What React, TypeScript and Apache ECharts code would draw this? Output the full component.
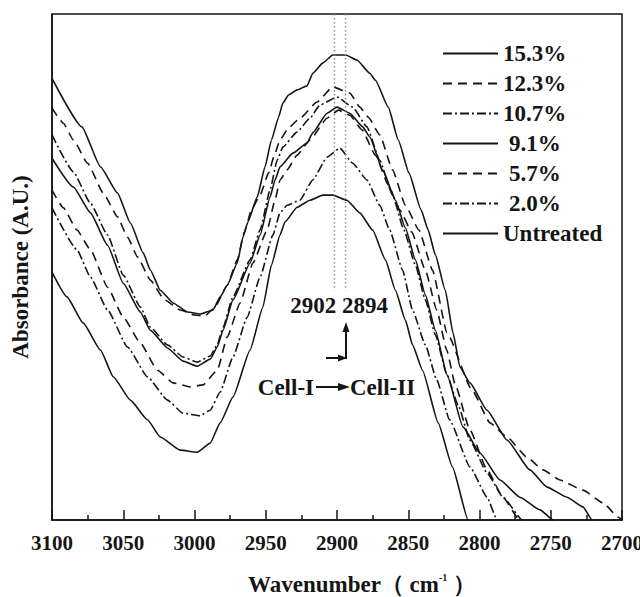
import React, { useEffect, useRef } from 'react';
import * as echarts from 'echarts';

// [wavenumber (cm-1), absorbance (arbitrary units, 0-100)]
const s153: [number, number][] = [
  [3100, 87.3], [3079, 77.7], [3066, 69.8], [3054, 64.6], [3045, 58.7], [3036, 52.8], [3031, 49.4],
  [3024, 45.4], [3015, 42.9], [3005, 41.1], [2996, 40.7], [2987, 41.5], [2982, 44.1], [2977, 46.4],
  [2970, 50.8], [2966, 55.9], [2962.5, 58.9], [2956, 63.8], [2950.5, 69.8], [2946, 75.1], [2941, 79.6],
  [2938, 82.4], [2934, 84.0], [2928, 85.0], [2921, 85.8], [2917, 88.3], [2910, 90.3], [2903, 91.9],
  [2894, 91.9], [2886, 90.9], [2877, 88.3], [2873, 86.9], [2864, 81.6], [2857, 75.1], [2849.5, 68.6],
  [2841, 61.3], [2836, 57.3], [2831, 52.4], [2824, 45.4], [2818.6, 37.0], [2813.7, 30.2], [2806.7, 27.1],
  [2794.7, 21.7], [2780.7, 15.8], [2764.6, 9.9], [2752.6, 6.5], [2738.6, 4.5], [2727.4, 2.6], [2721, 0],
  [2719, -0.5],
];
const s123: [number, number][] = [
  [3100, 81.4], [3092, 78.4], [3085, 75.1], [3075, 70.5], [3064, 64.6], [3054, 59.9], [3047, 55.9],
  [3040, 52.0], [3031, 47.4], [3021, 43.5], [3010, 41.5], [3000, 40.5], [2993, 40.3], [2986, 41.9],
  [2977, 46.4], [2970, 51.4], [2965, 56.9], [2960, 61.3], [2954, 64.2], [2948, 68.6], [2943.5, 72.5],
  [2940, 75.1], [2934, 77.5], [2926, 79.4], [2914, 82.6], [2903, 85.6], [2891, 84.4], [2884, 81.6],
  [2878, 79.6], [2870, 76.1], [2861, 69.2], [2852, 62.2], [2842.5, 57.3], [2833, 49.4], [2822.8, 37.0],
  [2805.3, 25.7], [2792.6, 19.2], [2780.7, 16.4], [2766.7, 12.4], [2755.4, 9.9], [2743.5, 7.9],
  [2727.4, 5.9], [2713.3, 3.4], [2702.8, 0.6], [2700, 0],
];
const s107: [number, number][] = [
  [3100, 76.1], [3085, 68.8], [3073, 62.6], [3061, 56.3], [3050, 48.4], [3038, 42.1], [3031, 38.1],
  [3019, 34.6], [3008, 32.2], [2998, 31.2], [2989, 32.4], [2984, 34.6], [2980, 38.1], [2973, 44.1],
  [2961, 51.4], [2954, 57.3], [2947, 65.2], [2942, 71.1], [2938, 73.7], [2928, 76.7], [2919, 79.4],
  [2912, 82.0], [2900, 83.6], [2889, 81.6], [2879, 77.7], [2870, 71.1], [2861, 64.2], [2853, 57.3],
  [2845, 50.4], [2838, 43.5], [2831, 36.6], [2822.8, 28.7], [2815, 22.7], [2806.7, 15.8], [2794.7, 9.3],
  [2783.5, 4.5], [2770, 0], [2768, -0.5],
];
const s91: [number, number][] = [
  [3100, 71.5], [3085, 65.8], [3073, 60.7], [3061, 54.3], [3050, 46.8], [3038, 41.1], [3031, 37.5],
  [3019, 34.0], [3008, 31.4], [2998, 30.4], [2989, 31.8], [2984, 34.2], [2980, 37.5], [2973, 43.5],
  [2961, 50.8], [2954, 56.3], [2947, 63.8], [2943.5, 67.2], [2940, 69.8], [2931, 72.5], [2921, 74.5],
  [2917, 76.5], [2907, 80.4], [2900, 81.6], [2891, 80.4], [2882, 77.7], [2877, 75.7], [2868, 69.2],
  [2859, 63.2], [2852, 57.7], [2845, 51.4], [2838, 44.5], [2831, 37.5], [2822.8, 28.7], [2811.6, 18.4],
  [2799.6, 13.2], [2785.6, 7.9], [2771.6, 4.5], [2757.5, 2.0], [2748.4, 0], [2746, -0.5],
];
const s57: [number, number][] = [
  [3100, 65.2], [3092, 61.7], [3082.5, 57.3], [3073, 53.4], [3061, 46.0], [3050, 40.1], [3038, 35.0],
  [3026, 29.6], [3015, 27.1], [3003, 26.3], [2994, 26.7], [2984, 29.6], [2977, 36.2], [2968, 42.9],
  [2959, 50.8], [2949, 57.3], [2943.5, 63.2], [2940, 67.2], [2935, 69.2], [2928, 72.1], [2919, 75.1],
  [2907, 79.4], [2899, 81.0], [2891, 80.0], [2882.5, 77.1], [2873, 72.1], [2864, 66.2], [2856, 61.3],
  [2847.5, 56.9], [2838, 49.4], [2830, 41.5], [2823, 33.6], [2817, 26.7], [2806.7, 17.8], [2794.7, 9.9],
  [2783.5, 4.5], [2772, 0], [2770, -0.5],
];
const s20: [number, number][] = [
  [3100, 61.7], [3082.5, 53.4], [3073, 48.0], [3061, 41.5], [3047, 34.2], [3033, 28.3], [3019, 23.7],
  [3008, 21.1], [2996, 20.6], [2989, 21.7], [2982, 25.3], [2973, 32.2], [2963, 40.1], [2954, 48.0],
  [2945, 56.3], [2940, 60.7], [2935, 62.2], [2926, 63.2], [2917, 67.2], [2907, 71.7], [2898, 73.5],
  [2889, 70.5], [2879, 67.2], [2870, 62.2], [2863, 57.3], [2854, 49.4], [2847, 41.5], [2838, 34.6],
  [2830, 27.7], [2821, 19.8], [2806.7, 10.5], [2794.7, 4.5], [2787.7, 0], [2786, -0.5],
];
const sUntreated: [number, number][] = [
  [3100, 49.0], [3089.5, 44.1], [3078, 38.9], [3066, 33.6], [3057, 28.3], [3045, 23.7], [3033, 19.8],
  [3024, 16.4], [3010, 13.8], [2998, 13.4], [2989, 15.2], [2982, 19.2], [2973, 24.3], [2961, 33.6],
  [2952, 42.1], [2946, 50.4], [2940, 56.3], [2936.5, 58.9], [2928, 61.8], [2919, 63.2], [2910, 64.2],
  [2903, 64.2], [2893, 63.2], [2884, 60.7], [2875, 57.3], [2866, 51.4], [2859, 45.4], [2852, 39.5],
  [2847, 34.6], [2840, 29.6], [2829, 19.2], [2819, 10.5], [2808, 0], [2806.5, -1.0],
];

const seriesNames = ['15.3%', '12.3%', '10.7%', '9.1%', '5.7%', '2.0%', 'Untreated'];
const seriesData = [s153, s123, s107, s91, s57, s20, sUntreated];
const seriesDash = ['solid', 'dashed', 'dashdot', 'solid', 'dashed', 'dashdot', 'solid'];

const peakLines = [2902, 2894];
const peakLineTop = 100;
const peakLineBottom = 45.4;

const FONT = 'Liberation Serif';
const INK = '#151515';

function dashOf(kind: string): any {
  if (kind === 'dashed') return [9, 6];
  if (kind === 'dashdot') return [9, 3, 2, 3];
  return 'solid';
}

export default function App() {
  const ref = useRef<HTMLDivElement>(null);
  useEffect(() => {
    document.body.style.margin = '0';
    document.documentElement.style.overflow = 'hidden';
    document.body.style.overflow = 'hidden';
    const chart = echarts.init(ref.current!, null, { renderer: 'svg', width: 640, height: 597 });
    const series: any[] = seriesNames.map((name, i) => ({
      name,
      type: 'line',
      data: seriesData[i],
      symbol: 'none',
      smooth: 0.15,
      smoothMonotone: 'x',
      lineStyle: { color: INK, width: 1.6, type: dashOf(seriesDash[i]) },
      itemStyle: { color: INK },
      silent: true,
      z: 3,
    }));
    series[0].markLine = {
      silent: true,
      symbol: ['none', 'none'],
      label: { show: false },
      lineStyle: { color: '#888', width: 1.4, type: [1.5, 2.5] },
      data: peakLines.map((w) => [{ coord: [w, peakLineTop] }, { coord: [w, peakLineBottom] }]),
    };
    const legendData = seriesNames.map((n) => ({
      name: n,
      textStyle: n.length === 4 ? { padding: [0, 0, 0, 6] } : {},
    }));
    const txt = { fontFamily: FONT, fontWeight: 'bold', fontSize: 23, fill: INK };
    chart.setOption({
      animation: false,
      backgroundColor: '#fff',
      textStyle: { fontFamily: FONT, fontWeight: 'bold', color: INK },
      grid: {
        left: 52, right: 18, top: 14, bottom: 77, show: true, borderColor: INK, borderWidth: 1.5,
        outerBoundsMode: 'none', containLabel: false,
      },
      legend: {
        orient: 'vertical',
        left: 442,
        top: 42,
        padding: 0,
        itemWidth: 55,
        itemHeight: 14,
        itemGap: 7,
        selectedMode: false,
        data: legendData,
        itemStyle: { opacity: 0 },
        textStyle: { fontFamily: FONT, fontWeight: 'bold', fontSize: 23, color: INK, lineHeight: 22 },
      },
      xAxis: {
        type: 'value',
        inverse: true,
        min: 2700,
        max: 3100,
        interval: 50,
        axisLine: { lineStyle: { color: INK, width: 1.5 } },
        axisTick: { inside: true, length: 10, lineStyle: { color: INK, width: 1.5 } },
        minorTick: { show: true, splitNumber: 2, length: 5, lineStyle: { color: INK, width: 1.5 } },
        splitLine: { show: false },
        axisLabel: {
          color: INK, fontSize: 21, fontWeight: 'bold', fontFamily: FONT, margin: 12,
          showMinLabel: true, showMaxLabel: true, hideOverlap: false,
          formatter: (v: number) => String(v),
        },
        name: '{a|Wavenumber（ cm}{s|-1}{a| ）}',
        nameLocation: 'middle',
        nameGap: 52,
        nameTextStyle: {
          fontFamily: FONT,
          fontWeight: 'bold',
          fontSize: 23,
          lineHeight: 24,
          padding: [0, 0, 0, 50],
          rich: {
            a: { fontFamily: FONT, fontWeight: 'bold', fontSize: 23, color: INK, lineHeight: 24 },
            s: { fontFamily: FONT, fontWeight: 'bold', fontSize: 10, color: INK, verticalAlign: 'top', padding: [0, 0, 12, 0] },
          },
        },
      },
      yAxis: {
        type: 'value',
        min: 0,
        max: 100,
        axisLine: { show: true, lineStyle: { color: INK, width: 1.5 } },
        axisTick: { show: false },
        axisLabel: { show: false },
        splitLine: { show: false },
        name: 'Absorbance (A.U.)',
        nameLocation: 'middle',
        nameGap: 20,
        nameRotate: 90,
        nameTextStyle: { fontFamily: FONT, fontWeight: 'bold', fontSize: 23, color: INK },
      },
      graphic: [
        { type: 'text', x: 339, y: 305, style: { ...txt, text: '2902 2894', textAlign: 'center', textVerticalAlign: 'middle', align: 'center', verticalAlign: 'middle' } },
        { type: 'line', shape: { x1: 326, y1: 358, x2: 340, y2: 358 }, style: { stroke: INK, lineWidth: 2 } },
        { type: 'polygon', shape: { points: [[347, 358], [338, 354.5], [338, 361.5]] }, style: { fill: INK } },
        { type: 'line', shape: { x1: 346, y1: 359, x2: 346, y2: 331 }, style: { stroke: INK, lineWidth: 2 } },
        { type: 'polygon', shape: { points: [[346, 322], [342.5, 332], [349.5, 332]] }, style: { fill: INK } },
        { type: 'text', x: 314, y: 387, style: { ...txt, text: 'Cell-I', textAlign: 'right', textVerticalAlign: 'middle', align: 'right', verticalAlign: 'middle' } },
        { type: 'line', shape: { x1: 316, y1: 387, x2: 340, y2: 387 }, style: { stroke: INK, lineWidth: 2 } },
        { type: 'polygon', shape: { points: [[350, 387], [338, 383], [338, 391]] }, style: { fill: INK } },
        { type: 'text', x: 350, y: 387, style: { ...txt, text: 'Cell-II', textAlign: 'left', textVerticalAlign: 'middle', align: 'left', verticalAlign: 'middle' } },
      ],
      series,
    });
    return () => chart.dispose();
  }, []);
  return <div ref={ref} style={{ width: 640, height: 597, position: 'absolute', left: 0, top: 0 }} />;
}
